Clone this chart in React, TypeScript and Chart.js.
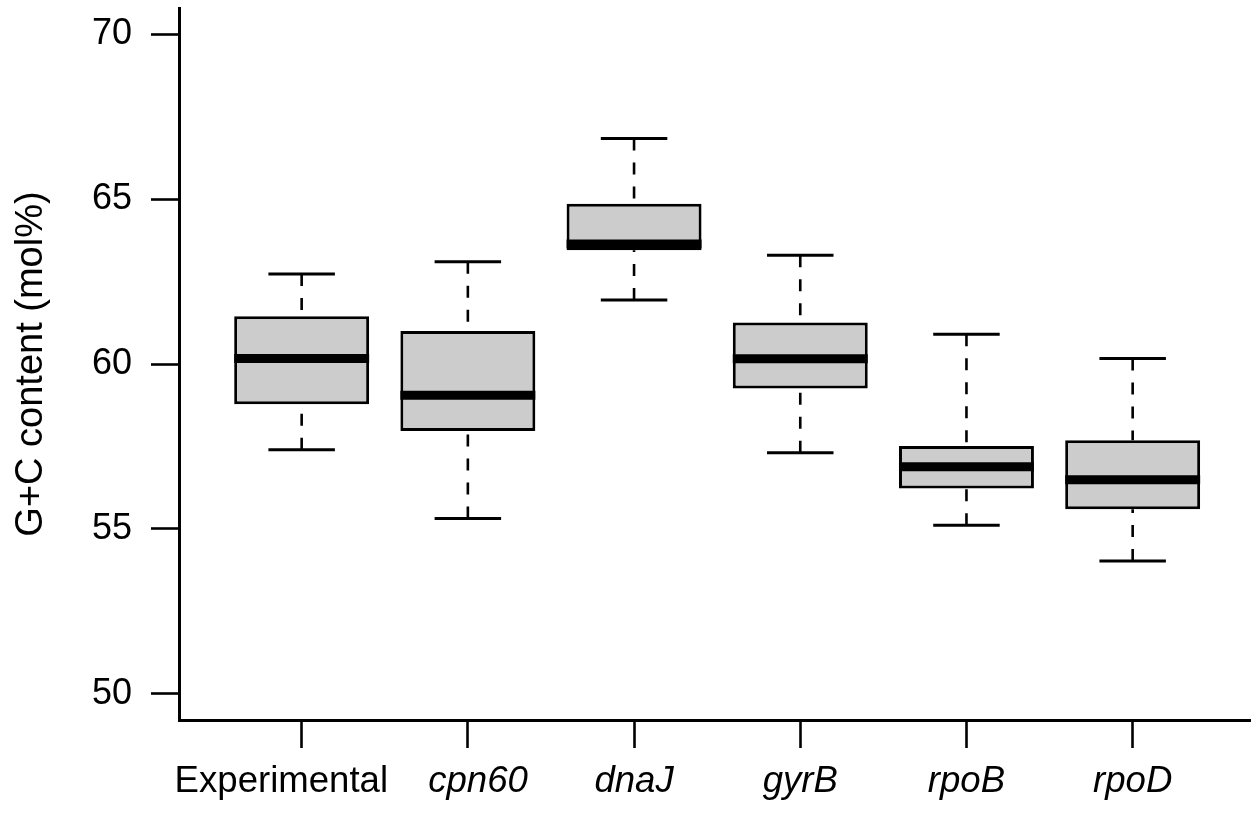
import React, { useEffect, useRef } from 'react';
import { Chart, registerables } from 'chart.js';

Chart.register(...registerables);

const FONT = '"Liberation Sans", Arial, Helvetica, sans-serif';

// Categories (x axis)
const categories = ['Experimental', 'cpn60', 'dnaJ', 'gyrB', 'rpoB', 'rpoD'];
// Tick labels as set in the original (padded so the first two do not crowd each other)
const xTickLabels = ['Experimental    ', '  cpn60', 'dnaJ', 'gyrB', 'rpoB', 'rpoD'];
// Box-plot statistics (G+C content, mol%)
const whiskerLow = [57.40, 55.31, 61.94, 57.31, 55.11, 54.02];
const q1 = [58.78, 57.97, 63.45, 59.26, 56.22, 55.59];
const median = [60.17, 59.05, 63.64, 60.16, 56.88, 56.49];
const q3 = [61.45, 61.0, 64.86, 61.26, 57.51, 57.69];
const whiskerHigh = [62.73, 63.1, 66.84, 63.3, 60.9, 60.17];
// Y tick labels
const yTicks = [50, 55, 60, 65, 70];

export default function App() {
  const ref = useRef<HTMLCanvasElement>(null);

  useEffect(() => {
    if (!ref.current) return;

    const boxExtras = {
      id: 'boxExtras',
      afterDatasetsDraw(chart: any) {
        const ctx = chart.ctx;
        const xs = chart.scales.x;
        const ys = chart.scales.y;
        const meta = chart.getDatasetMeta(0);
        const capHalf = Math.abs(xs.getPixelForValue(1.2) - xs.getPixelForValue(1));
        ctx.save();
        ctx.strokeStyle = '#000';
        ctx.lineCap = 'butt';
        meta.data.forEach((bar: any, i: number) => {
          const { x, width } = bar.getProps(['x', 'width'], true);
          const yHi = ys.getPixelForValue(whiskerHigh[i]);
          const yQ3 = ys.getPixelForValue(q3[i]);
          const yQ1 = ys.getPixelForValue(q1[i]);
          const yLo = ys.getPixelForValue(whiskerLow[i]);
          const yMed = ys.getPixelForValue(median[i]);

          // dashed whiskers, drawn from whisker end toward the box
          ctx.lineWidth = 2.6;
          ctx.setLineDash([12, 12]);
          ctx.beginPath();
          ctx.moveTo(x, yHi);
          ctx.lineTo(x, yQ3);
          ctx.stroke();
          ctx.beginPath();
          ctx.moveTo(x, yLo);
          ctx.lineTo(x, yQ1);
          ctx.stroke();

          // caps
          ctx.setLineDash([]);
          ctx.lineWidth = 3;
          ctx.beginPath();
          ctx.moveTo(x - capHalf, yHi);
          ctx.lineTo(x + capHalf, yHi);
          ctx.moveTo(x - capHalf, yLo);
          ctx.lineTo(x + capHalf, yLo);
          ctx.stroke();

          // median
          ctx.lineWidth = 9;
          ctx.beginPath();
          ctx.moveTo(x - width / 2, yMed);
          ctx.lineTo(x + width / 2, yMed);
          ctx.stroke();
        });
        ctx.restore();
      },
    };

    const chart = new Chart(ref.current, {
      type: 'bar',
      data: {
        datasets: [
          {
            data: categories.map((_, i) => ({ x: i + 1, y: [q1[i], q3[i]] })) as any,
            backgroundColor: '#cccccc',
            borderColor: '#000000',
            borderWidth: 3,
            borderSkipped: false,
            barPercentage: 0.812,
            categoryPercentage: 1,
          },
        ],
      },
      options: {
        animation: false,
        responsive: false,
        devicePixelRatio: 1,
        layout: { padding: { top: 8, right: 9, left: 0, bottom: 0 } },
        plugins: {
          legend: { display: false },
          tooltip: { enabled: false },
        },
        scales: {
          x: {
            type: 'linear',
            min: 0.262,
            max: 6.706,
            offset: false,
            afterBuildTicks: (s: any) => {
              s.ticks = categories.map((_, i) => ({ value: i + 1 }));
            },
            afterFit: (s: any) => {
              s.height = 94;
              s.paddingLeft = 0;
              s.paddingRight = 0;
            },
            ticks: {
              autoSkip: false,
              maxRotation: 0,
              padding: 12,
              color: '#000',
              callback: (v: any) => xTickLabels[Math.round(Number(v)) - 1],
              font: (c: any) => ({
                family: FONT,
                size: 36.6,
                style: c.index === 0 ? 'normal' : 'italic',
              }),
            },
            grid: {
              offset: false,
              drawOnChartArea: false,
              drawTicks: true,
              tickLength: 28,
              tickWidth: 2.6,
              color: '#000',
            },
            border: { display: true, width: 3, color: '#000' },
          },
          y: {
            type: 'linear',
            min: 49.2,
            max: 70.8,
            afterBuildTicks: (s: any) => {
              s.ticks = yTicks.map((v) => ({ value: v }));
            },
            afterFit: (s: any) => {
              s.width = 179;
              s.paddingTop = 0;
              s.paddingBottom = 0;
            },
            ticks: {
              padding: 19,
              color: '#000',
              font: { family: FONT, size: 36 },
            },
            grid: {
              drawOnChartArea: false,
              drawTicks: true,
              tickLength: 28,
              tickWidth: 2.6,
              color: '#000',
            },
            border: { display: true, width: 3, color: '#000' },
            title: {
              display: true,
              text: 'G+C content (mol%)',
              color: '#000',
              font: { family: FONT, size: 38 },
              padding: { top: 9, bottom: 0 },
            },
          },
        },
      },
      plugins: [boxExtras],
    } as any);

    return () => chart.destroy();
  }, []);

  return (
    <div style={{ position: 'absolute', left: 0, top: 0, width: 1259, height: 814, background: '#fff' }}>
      <canvas ref={ref} width={1259} height={814} style={{ display: 'block' }} />
    </div>
  );
}
